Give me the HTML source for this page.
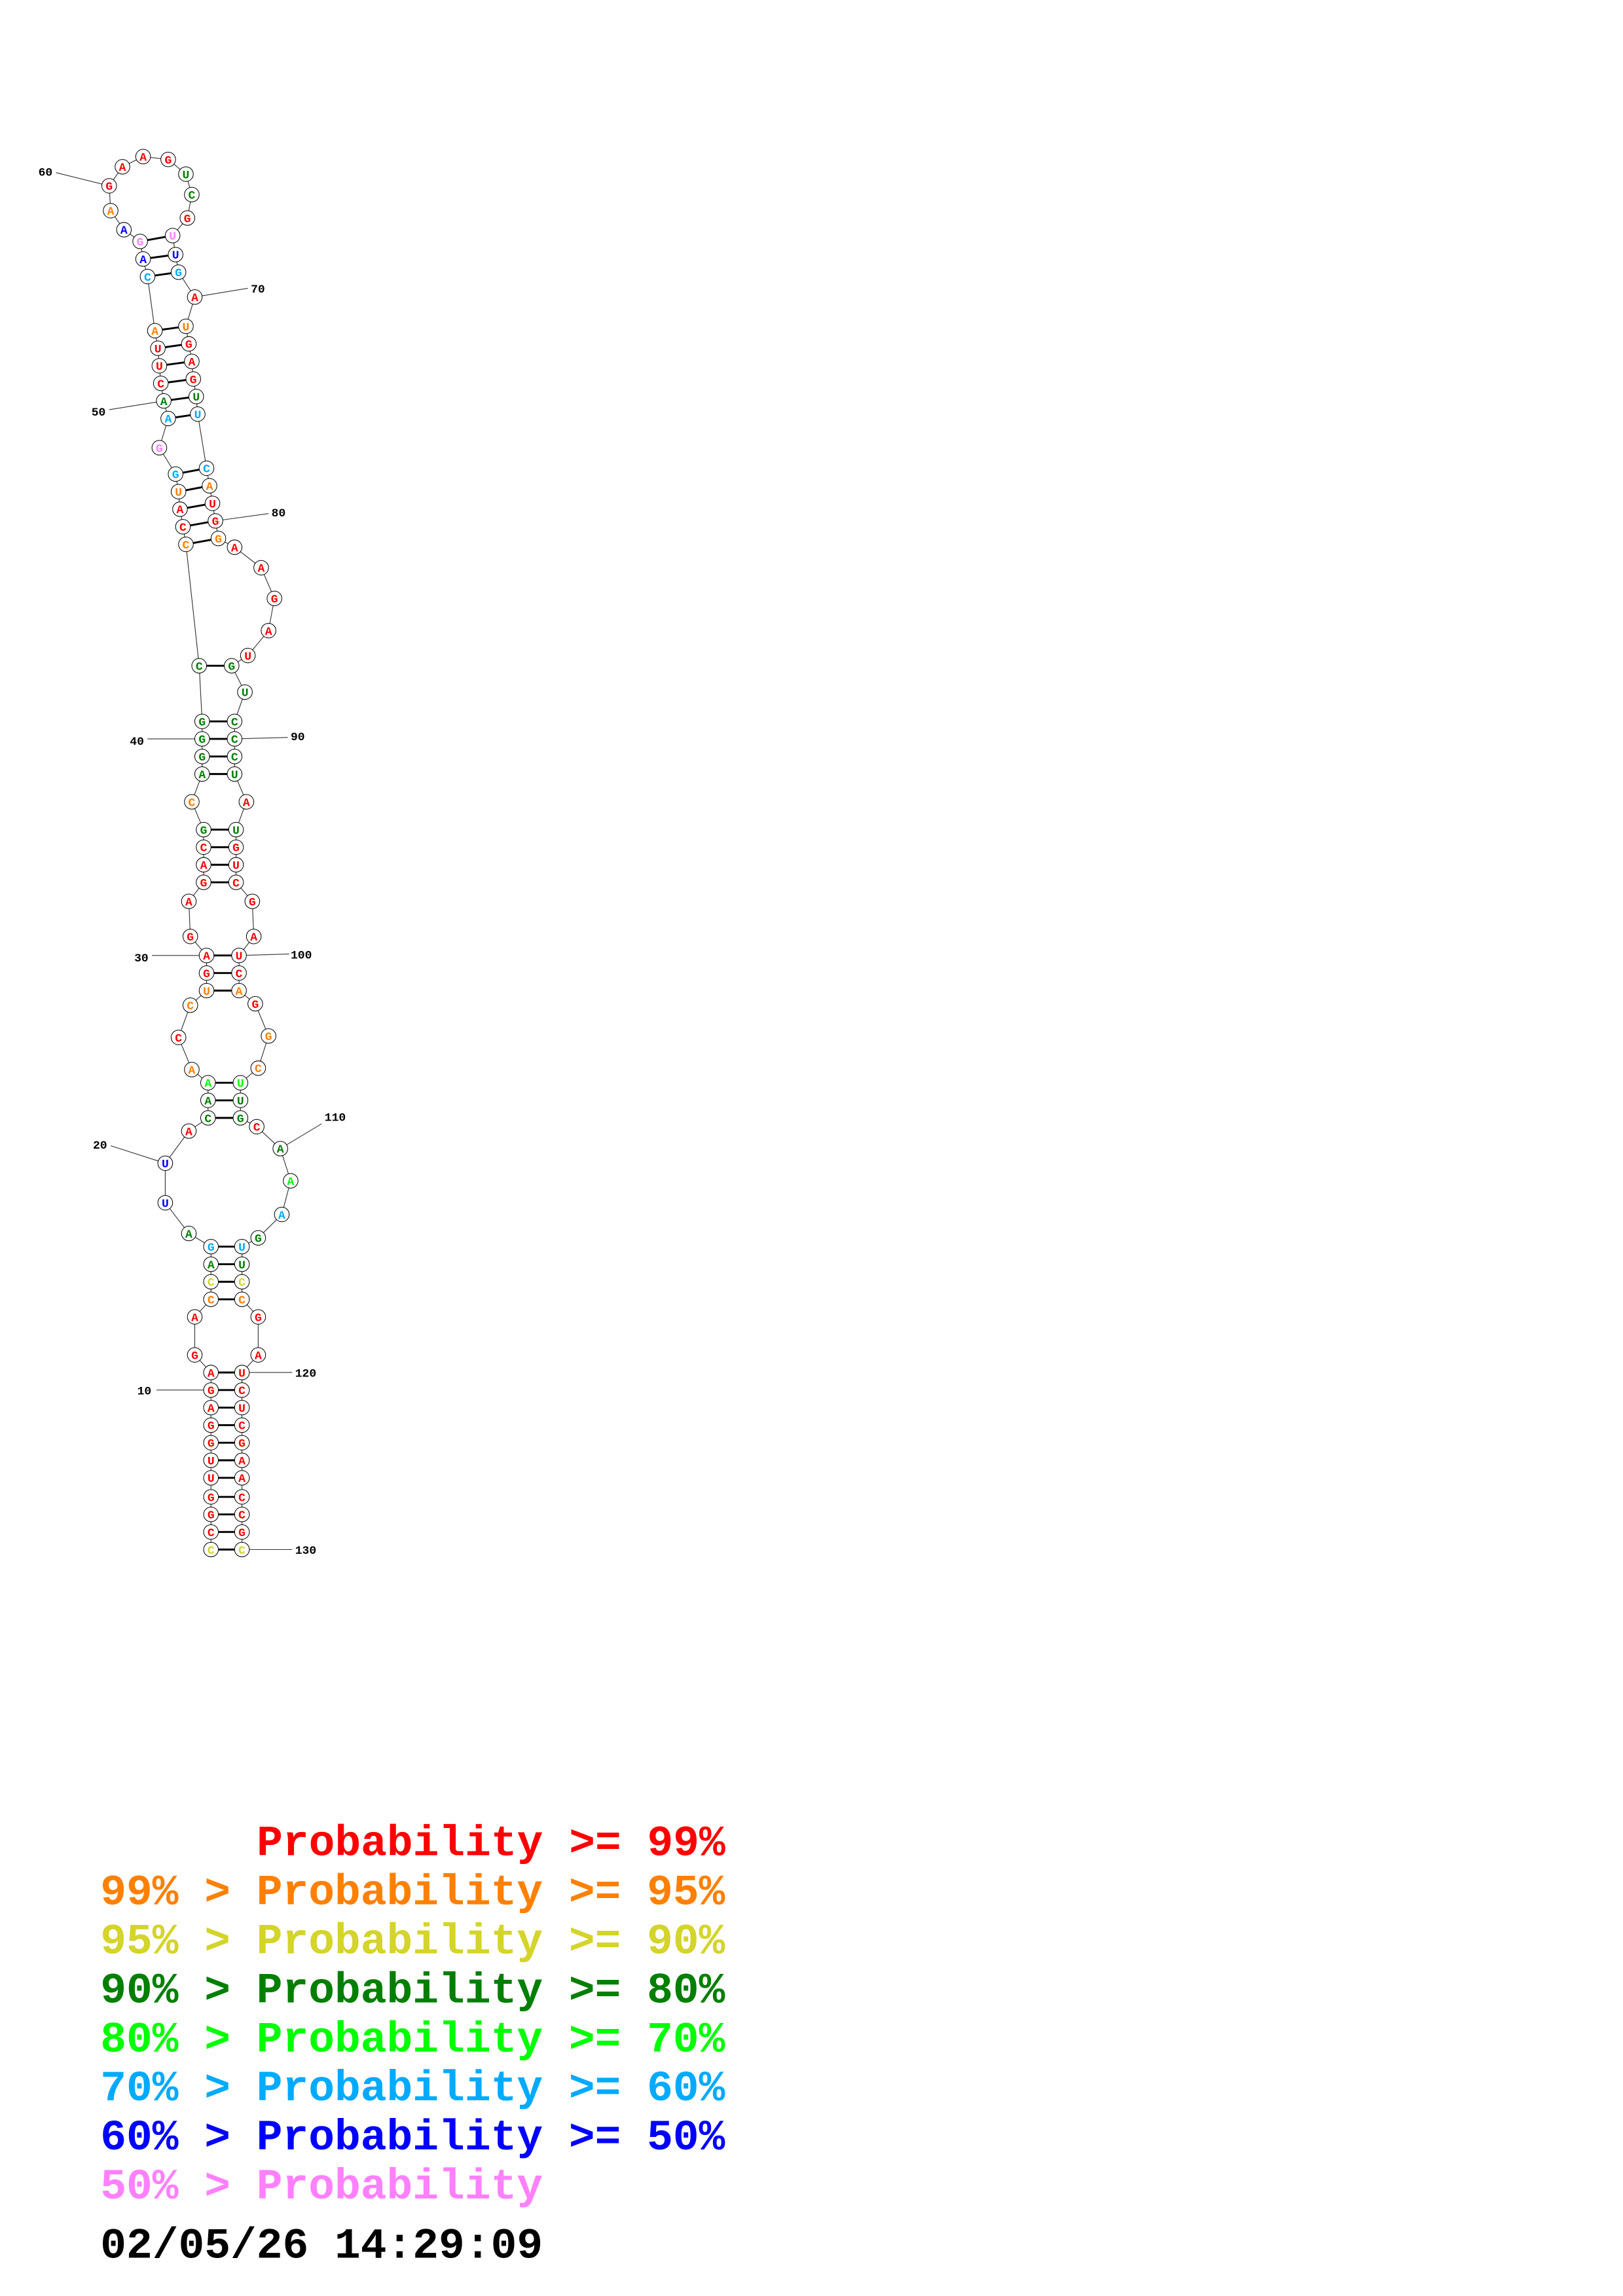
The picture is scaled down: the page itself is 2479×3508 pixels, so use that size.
<!DOCTYPE html>
<html><head><meta charset="utf-8"><style>
html,body{margin:0;padding:0;background:#fff;}
svg{display:block;}
circle{fill:#fff;stroke:#000;stroke-width:0.45;}
.n{font-family:"Liberation Mono",monospace;font-weight:bold;font-size:8px;text-anchor:middle;}
.l{font-family:"Liberation Mono",monospace;font-weight:bold;font-size:8px;fill:#000;}
.lg{font-family:"Liberation Mono",monospace;font-weight:bold;font-size:29.4px;}
.r{fill:#ff0000}.o{fill:#ff8000}.y{fill:#d4d42a}.g{fill:#007f00}.lg2{fill:#00ff00}.c{fill:#00aaff}.b{fill:#0000ff}.p{fill:#ff80ff}
</style></head><body>
<svg width="2479" height="3508" xmlns="http://www.w3.org/2000/svg">
<g transform="scale(2.2536,2.2356)">
<g stroke="#333" stroke-width="0.5" fill="none">
<line x1="38" y1="118" x2="74" y2="127"/>
<line x1="132" y1="203" x2="168" y2="197"/>
<line x1="74" y1="280" x2="111" y2="274"/>
<line x1="146" y1="356" x2="182" y2="351"/>
<line x1="100" y1="505" x2="137" y2="505"/>
<line x1="159" y1="505" x2="195" y2="504"/>
<line x1="103" y1="653" x2="140" y2="653"/>
<line x1="162" y1="653" x2="196" y2="652"/>
<line x1="75" y1="783" x2="112" y2="795"/>
<line x1="190" y1="785" x2="218" y2="768"/>
<line x1="106" y1="950" x2="143" y2="950"/>
<line x1="164" y1="938" x2="198" y2="938"/>
<line x1="164" y1="1059" x2="198" y2="1059"/>
</g>
<text class="l" x="26" y="120">60</text>
<text class="l" x="170" y="200">70</text>
<text class="l" x="62" y="284">50</text>
<text class="l" x="184" y="353">80</text>
<text class="l" x="88" y="509">40</text>
<text class="l" x="197" y="506">90</text>
<text class="l" x="91" y="657">30</text>
<text class="l" x="197" y="655">100</text>
<text class="l" x="63" y="785">20</text>
<text class="l" x="220" y="766">110</text>
<text class="l" x="93" y="953">10</text>
<text class="l" x="200" y="941">120</text>
<text class="l" x="200" y="1062">130</text>
<polyline fill="none" stroke="#333" stroke-width="0.5" points="143,1059 143,1047 143,1035 143,1023 143,1010 143,998 143,986 143,974 143,962 143,950 143,938 132,926 132,900 143,888 143,876 143,864 143,852 128,843 112,822 112,795 128,773 141,764 141,752 141,740 130,731 121,709 129,687 140,677 140,665 140,653 129,640 128,616 138,603 138,591 138,579 138,567 130,548 137,529 137,517 137,505 137,493 135,455 126,372 124,360 122,348 121,336 119,324 108,306 114,286 111,274 109,262 108,250 107,238 105,226 100,189 97,177 95,165 84,157 75,144 74,127 83,114 97,107 114,109 126,119 130,133 127,149 117,161 119,174 121,186 132,203 126,223 128,235 130,247 131,259 133,271 134,283 140,320 142,332 144,344 146,356 148,368 159,374 177,388 186,409 182,431 168,448 157,455 166,473 159,493 159,505 159,517 159,529 167,548 160,567 160,579 160,591 160,603 171,616 172,640 162,653 162,665 162,677 173,686 182,708 175,730 163,740 163,752 163,764 174,770 190,785 197,807 191,830 175,846 164,852 164,864 164,876 164,888 175,900 175,926 164,938 164,950 164,962 164,974 164,986 164,998 164,1010 164,1023 164,1035 164,1047 164,1059"/>
<g stroke="#000" stroke-width="1.3">
<line x1="143" y1="1059" x2="164" y2="1059"/><line x1="143" y1="1047" x2="164" y2="1047"/><line x1="143" y1="1035" x2="164" y2="1035"/><line x1="143" y1="1023" x2="164" y2="1023"/><line x1="143" y1="1010" x2="164" y2="1010"/><line x1="143" y1="998" x2="164" y2="998"/><line x1="143" y1="986" x2="164" y2="986"/><line x1="143" y1="974" x2="164" y2="974"/><line x1="143" y1="962" x2="164" y2="962"/><line x1="143" y1="950" x2="164" y2="950"/><line x1="143" y1="938" x2="164" y2="938"/>
<line x1="143" y1="888" x2="164" y2="888"/><line x1="143" y1="876" x2="164" y2="876"/><line x1="143" y1="864" x2="164" y2="864"/><line x1="143" y1="852" x2="164" y2="852"/>
<line x1="141" y1="764" x2="163" y2="764"/><line x1="141" y1="752" x2="163" y2="752"/><line x1="141" y1="740" x2="163" y2="740"/>
<line x1="140" y1="677" x2="162" y2="677"/><line x1="140" y1="665" x2="162" y2="665"/><line x1="140" y1="653" x2="162" y2="653"/>
<line x1="138" y1="603" x2="160" y2="603"/><line x1="138" y1="591" x2="160" y2="591"/><line x1="138" y1="579" x2="160" y2="579"/><line x1="138" y1="567" x2="160" y2="567"/>
<line x1="137" y1="529" x2="159" y2="529"/><line x1="137" y1="517" x2="159" y2="517"/><line x1="137" y1="505" x2="159" y2="505"/><line x1="137" y1="493" x2="159" y2="493"/>
<line x1="135" y1="455" x2="157" y2="455"/>
<line x1="126" y1="372" x2="148" y2="368"/><line x1="124" y1="360" x2="146" y2="356"/><line x1="122" y1="348" x2="144" y2="344"/><line x1="121" y1="336" x2="142" y2="332"/><line x1="119" y1="324" x2="140" y2="320"/>
<line x1="114" y1="286" x2="134" y2="283"/><line x1="111" y1="274" x2="133" y2="271"/><line x1="109" y1="262" x2="131" y2="259"/><line x1="108" y1="250" x2="130" y2="247"/><line x1="107" y1="238" x2="128" y2="235"/><line x1="105" y1="226" x2="126" y2="223"/>
<line x1="100" y1="189" x2="121" y2="186"/><line x1="97" y1="177" x2="119" y2="174"/><line x1="95" y1="165" x2="117" y2="161"/>
</g>
<g>
<circle cx="143" cy="1059" r="5"/><circle cx="143" cy="1047" r="5"/><circle cx="143" cy="1035" r="5"/><circle cx="143" cy="1023" r="5"/><circle cx="143" cy="1010" r="5"/><circle cx="143" cy="998" r="5"/><circle cx="143" cy="986" r="5"/><circle cx="143" cy="974" r="5"/><circle cx="143" cy="962" r="5"/><circle cx="143" cy="950" r="5"/><circle cx="143" cy="938" r="5"/><circle cx="132" cy="926" r="5"/><circle cx="132" cy="900" r="5"/><circle cx="143" cy="888" r="5"/><circle cx="143" cy="876" r="5"/><circle cx="143" cy="864" r="5"/><circle cx="143" cy="852" r="5"/><circle cx="128" cy="843" r="5"/><circle cx="112" cy="822" r="5"/><circle cx="112" cy="795" r="5"/><circle cx="128" cy="773" r="5"/><circle cx="141" cy="764" r="5"/><circle cx="141" cy="752" r="5"/><circle cx="141" cy="740" r="5"/><circle cx="130" cy="731" r="5"/><circle cx="121" cy="709" r="5"/><circle cx="129" cy="687" r="5"/><circle cx="140" cy="677" r="5"/><circle cx="140" cy="665" r="5"/><circle cx="140" cy="653" r="5"/><circle cx="129" cy="640" r="5"/><circle cx="128" cy="616" r="5"/><circle cx="138" cy="603" r="5"/><circle cx="138" cy="591" r="5"/><circle cx="138" cy="579" r="5"/><circle cx="138" cy="567" r="5"/><circle cx="130" cy="548" r="5"/><circle cx="137" cy="529" r="5"/><circle cx="137" cy="517" r="5"/><circle cx="137" cy="505" r="5"/><circle cx="137" cy="493" r="5"/><circle cx="135" cy="455" r="5"/><circle cx="126" cy="372" r="5"/><circle cx="124" cy="360" r="5"/><circle cx="122" cy="348" r="5"/><circle cx="121" cy="336" r="5"/><circle cx="119" cy="324" r="5"/><circle cx="108" cy="306" r="5"/><circle cx="114" cy="286" r="5"/><circle cx="111" cy="274" r="5"/><circle cx="109" cy="262" r="5"/><circle cx="108" cy="250" r="5"/><circle cx="107" cy="238" r="5"/><circle cx="105" cy="226" r="5"/><circle cx="100" cy="189" r="5"/><circle cx="97" cy="177" r="5"/><circle cx="95" cy="165" r="5"/><circle cx="84" cy="157" r="5"/><circle cx="75" cy="144" r="5"/><circle cx="74" cy="127" r="5"/><circle cx="83" cy="114" r="5"/><circle cx="97" cy="107" r="5"/><circle cx="114" cy="109" r="5"/><circle cx="126" cy="119" r="5"/><circle cx="130" cy="133" r="5"/><circle cx="127" cy="149" r="5"/><circle cx="117" cy="161" r="5"/><circle cx="119" cy="174" r="5"/><circle cx="121" cy="186" r="5"/><circle cx="132" cy="203" r="5"/><circle cx="126" cy="223" r="5"/><circle cx="128" cy="235" r="5"/><circle cx="130" cy="247" r="5"/><circle cx="131" cy="259" r="5"/><circle cx="133" cy="271" r="5"/><circle cx="134" cy="283" r="5"/><circle cx="140" cy="320" r="5"/><circle cx="142" cy="332" r="5"/><circle cx="144" cy="344" r="5"/><circle cx="146" cy="356" r="5"/><circle cx="148" cy="368" r="5"/><circle cx="159" cy="374" r="5"/><circle cx="177" cy="388" r="5"/><circle cx="186" cy="409" r="5"/><circle cx="182" cy="431" r="5"/><circle cx="168" cy="448" r="5"/><circle cx="157" cy="455" r="5"/><circle cx="166" cy="473" r="5"/><circle cx="159" cy="493" r="5"/><circle cx="159" cy="505" r="5"/><circle cx="159" cy="517" r="5"/><circle cx="159" cy="529" r="5"/><circle cx="167" cy="548" r="5"/><circle cx="160" cy="567" r="5"/><circle cx="160" cy="579" r="5"/><circle cx="160" cy="591" r="5"/><circle cx="160" cy="603" r="5"/><circle cx="171" cy="616" r="5"/><circle cx="172" cy="640" r="5"/><circle cx="162" cy="653" r="5"/><circle cx="162" cy="665" r="5"/><circle cx="162" cy="677" r="5"/><circle cx="173" cy="686" r="5"/><circle cx="182" cy="708" r="5"/><circle cx="175" cy="730" r="5"/><circle cx="163" cy="740" r="5"/><circle cx="163" cy="752" r="5"/><circle cx="163" cy="764" r="5"/><circle cx="174" cy="770" r="5"/><circle cx="190" cy="785" r="5"/><circle cx="197" cy="807" r="5"/><circle cx="191" cy="830" r="5"/><circle cx="175" cy="846" r="5"/><circle cx="164" cy="852" r="5"/><circle cx="164" cy="864" r="5"/><circle cx="164" cy="876" r="5"/><circle cx="164" cy="888" r="5"/><circle cx="175" cy="900" r="5"/><circle cx="175" cy="926" r="5"/><circle cx="164" cy="938" r="5"/><circle cx="164" cy="950" r="5"/><circle cx="164" cy="962" r="5"/><circle cx="164" cy="974" r="5"/><circle cx="164" cy="986" r="5"/><circle cx="164" cy="998" r="5"/><circle cx="164" cy="1010" r="5"/><circle cx="164" cy="1023" r="5"/><circle cx="164" cy="1035" r="5"/><circle cx="164" cy="1047" r="5"/><circle cx="164" cy="1059" r="5"/>
</g>
<g class="n">
<text class="y" x="143" y="1061.8">C</text><text class="r" x="143" y="1049.8">C</text><text class="r" x="143" y="1037.8">G</text><text class="r" x="143" y="1025.8">G</text><text class="r" x="143" y="1012.8">U</text><text class="r" x="143" y="1000.8">U</text><text class="r" x="143" y="988.8">G</text><text class="r" x="143" y="976.8">G</text><text class="r" x="143" y="964.8">A</text><text class="r" x="143" y="952.8">G</text><text class="r" x="143" y="940.8">A</text><text class="r" x="132" y="928.8">G</text><text class="r" x="132" y="902.8">A</text><text class="o" x="143" y="890.8">C</text><text class="y" x="143" y="878.8">C</text><text class="g" x="143" y="866.8">A</text><text class="c" x="143" y="854.8">G</text><text class="g" x="128" y="845.8">A</text><text class="b" x="112" y="824.8">U</text><text class="b" x="112" y="797.8">U</text><text class="r" x="128" y="775.8">A</text><text class="g" x="141" y="766.8">C</text><text class="g" x="141" y="754.8">A</text><text class="lg2" x="141" y="742.8">A</text><text class="o" x="130" y="733.8">A</text><text class="r" x="121" y="711.8">C</text><text class="o" x="129" y="689.8">C</text><text class="o" x="140" y="679.8">U</text><text class="r" x="140" y="667.8">G</text><text class="r" x="140" y="655.8">A</text><text class="r" x="129" y="642.8">G</text><text class="r" x="128" y="618.8">A</text><text class="r" x="138" y="605.8">G</text><text class="r" x="138" y="593.8">A</text><text class="r" x="138" y="581.8">C</text><text class="g" x="138" y="569.8">G</text><text class="o" x="130" y="550.8">C</text><text class="g" x="137" y="531.8">A</text><text class="g" x="137" y="519.8">G</text><text class="g" x="137" y="507.8">G</text><text class="g" x="137" y="495.8">G</text><text class="g" x="135" y="457.8">C</text><text class="o" x="126" y="374.8">C</text><text class="r" x="124" y="362.8">C</text><text class="r" x="122" y="350.8">A</text><text class="o" x="121" y="338.8">U</text><text class="c" x="119" y="326.8">G</text><text class="p" x="108" y="308.8">G</text><text class="c" x="114" y="288.8">A</text><text class="g" x="111" y="276.8">A</text><text class="r" x="109" y="264.8">C</text><text class="r" x="108" y="252.8">U</text><text class="r" x="107" y="240.8">U</text><text class="o" x="105" y="228.8">A</text><text class="c" x="100" y="191.8">C</text><text class="b" x="97" y="179.8">A</text><text class="p" x="95" y="167.8">G</text><text class="b" x="84" y="159.8">A</text><text class="o" x="75" y="146.8">A</text><text class="r" x="74" y="129.8">G</text><text class="r" x="83" y="116.8">A</text><text class="r" x="97" y="109.8">A</text><text class="r" x="114" y="111.8">G</text><text class="g" x="126" y="121.8">U</text><text class="g" x="130" y="135.8">C</text><text class="r" x="127" y="151.8">G</text><text class="p" x="117" y="163.8">U</text><text class="b" x="119" y="176.8">U</text><text class="c" x="121" y="188.8">G</text><text class="r" x="132" y="205.8">A</text><text class="o" x="126" y="225.8">U</text><text class="r" x="128" y="237.8">G</text><text class="r" x="130" y="249.8">A</text><text class="r" x="131" y="261.8">G</text><text class="g" x="133" y="273.8">U</text><text class="c" x="134" y="285.8">U</text><text class="c" x="140" y="322.8">C</text><text class="o" x="142" y="334.8">A</text><text class="r" x="144" y="346.8">U</text><text class="r" x="146" y="358.8">G</text><text class="o" x="148" y="370.8">G</text><text class="r" x="159" y="376.8">A</text><text class="r" x="177" y="390.8">A</text><text class="r" x="186" y="411.8">G</text><text class="r" x="182" y="433.8">A</text><text class="r" x="168" y="450.8">U</text><text class="g" x="157" y="457.8">G</text><text class="g" x="166" y="475.8">U</text><text class="g" x="159" y="495.8">C</text><text class="g" x="159" y="507.8">C</text><text class="g" x="159" y="519.8">C</text><text class="g" x="159" y="531.8">U</text><text class="r" x="167" y="550.8">A</text><text class="g" x="160" y="569.8">U</text><text class="r" x="160" y="581.8">G</text><text class="r" x="160" y="593.8">U</text><text class="r" x="160" y="605.8">C</text><text class="r" x="171" y="618.8">G</text><text class="r" x="172" y="642.8">A</text><text class="r" x="162" y="655.8">U</text><text class="r" x="162" y="667.8">C</text><text class="o" x="162" y="679.8">A</text><text class="r" x="173" y="688.8">G</text><text class="o" x="182" y="710.8">G</text><text class="o" x="175" y="732.8">C</text><text class="lg2" x="163" y="742.8">U</text><text class="g" x="163" y="754.8">U</text><text class="g" x="163" y="766.8">G</text><text class="r" x="174" y="772.8">C</text><text class="g" x="190" y="787.8">A</text><text class="lg2" x="197" y="809.8">A</text><text class="c" x="191" y="832.8">A</text><text class="g" x="175" y="848.8">G</text><text class="c" x="164" y="854.8">U</text><text class="g" x="164" y="866.8">U</text><text class="y" x="164" y="878.8">C</text><text class="o" x="164" y="890.8">C</text><text class="r" x="175" y="902.8">G</text><text class="r" x="175" y="928.8">A</text><text class="r" x="164" y="940.8">U</text><text class="r" x="164" y="952.8">C</text><text class="r" x="164" y="964.8">U</text><text class="r" x="164" y="976.8">C</text><text class="r" x="164" y="988.8">G</text><text class="r" x="164" y="1000.8">A</text><text class="r" x="164" y="1012.8">A</text><text class="r" x="164" y="1025.8">C</text><text class="r" x="164" y="1037.8">C</text><text class="r" x="164" y="1049.8">G</text><text class="y" x="164" y="1061.8">C</text>
</g>
<g class="lg">
<text class="r" x="174" y="1268">Probability &gt;= 99%</text>
<text class="o" x="68" y="1301.5">99% &gt; Probability &gt;= 95%</text>
<text class="y" x="68" y="1335">95% &gt; Probability &gt;= 90%</text>
<text class="g" x="68" y="1368.5">90% &gt; Probability &gt;= 80%</text>
<text class="lg2" x="68" y="1402">80% &gt; Probability &gt;= 70%</text>
<text class="c" x="68" y="1435.5">70% &gt; Probability &gt;= 60%</text>
<text class="b" x="68" y="1469">60% &gt; Probability &gt;= 50%</text>
<text class="p" x="68" y="1502.5">50% &gt; Probability</text>
<text fill="#000" x="68" y="1543">02/05/26 14:29:09</text>
</g>
</g>
</svg>
</body></html>
